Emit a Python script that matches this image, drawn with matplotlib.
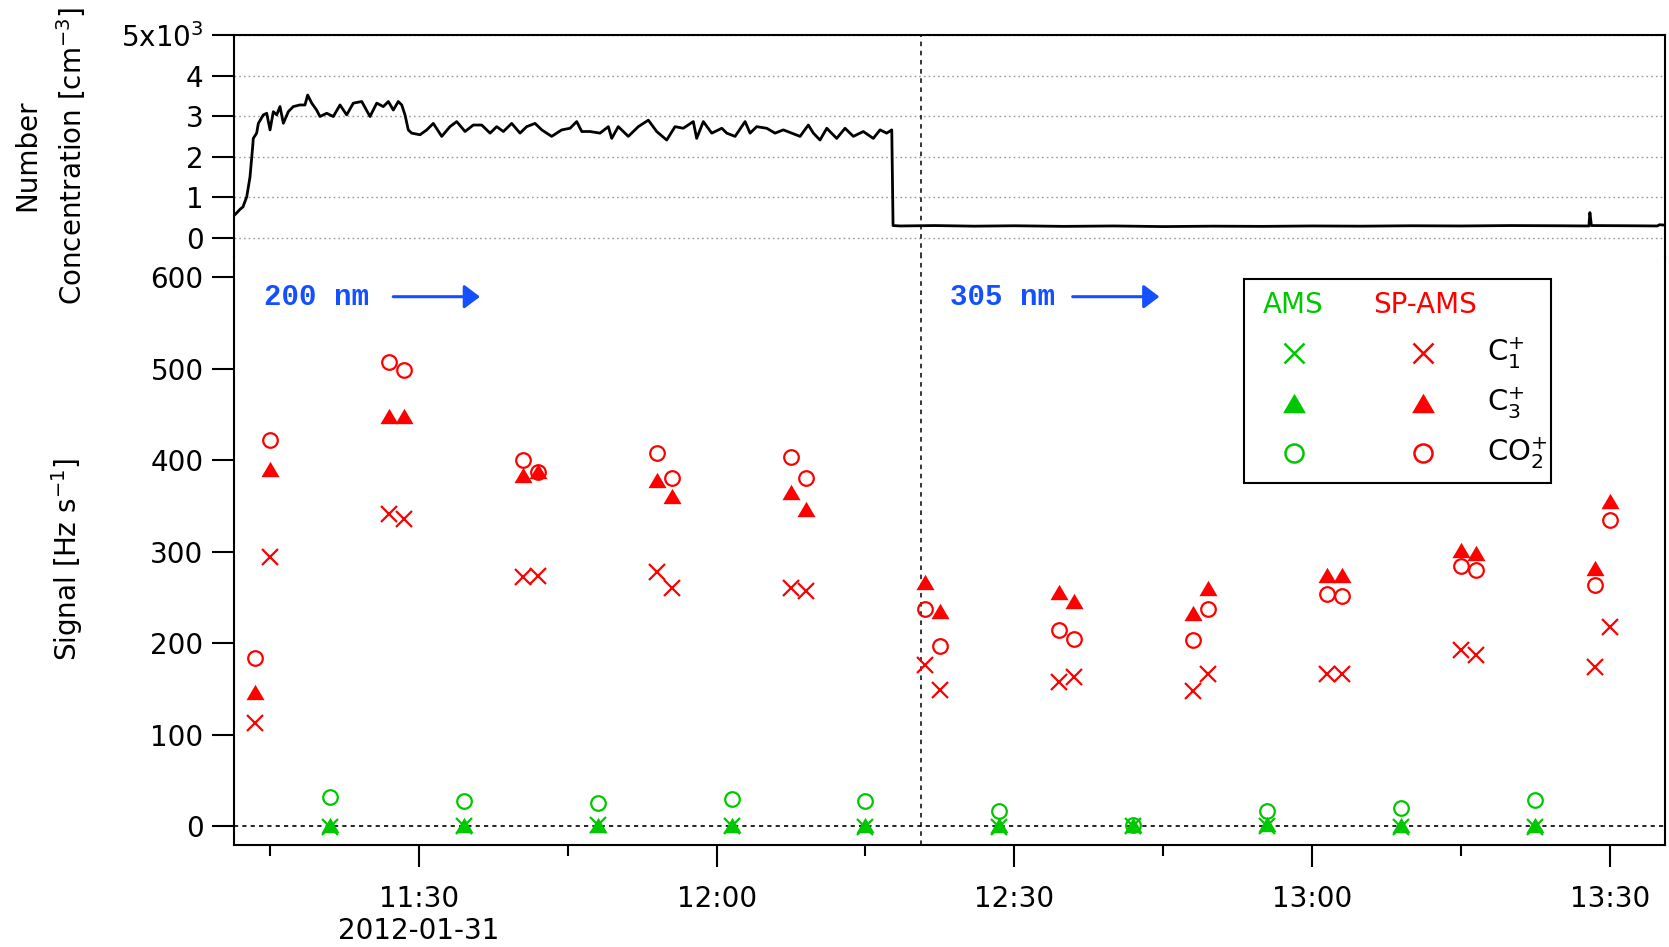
import datetime as dt
import matplotlib
matplotlib.use("Agg")
import matplotlib.pyplot as plt
from matplotlib.lines import Line2D
from matplotlib.patches import Rectangle

plt.rcParams['font.family'] = ['DejaVu Sans']
plt.rcParams['mathtext.fontset'] = 'dejavusans'

DAY = dt.datetime(2012, 1, 31)

# Particle number concentration (minutes after 11:00, cm^-3)
conc_minutes = [11.42, 11.67, 11.97, 12.27, 12.65, 12.98, 13.25, 13.31, 13.65, 13.82,
                14.32, 14.66, 15.0, 15.33, 15.67, 16.0, 16.34, 16.84, 17.34, 18.01,
                18.52, 18.79, 19.2, 19.69, 20.03, 20.71, 21.37, 22.05, 22.72, 23.39,
                24.24, 25.07, 25.75, 26.41, 26.92, 27.42, 27.92, 28.27, 28.6, 28.93,
                29.27, 30.11, 30.79, 31.45, 32.3, 33.13, 33.81, 34.65, 35.48, 36.33,
                37.17, 37.84, 38.51, 39.35, 40.19, 40.86, 41.7, 42.38, 43.38, 44.39,
                45.23, 45.9, 46.41, 47.24, 48.25, 49.09, 49.43, 50.09, 51.1, 52.11,
                53.12, 53.96, 54.97, 55.81, 56.64, 57.65, 57.99, 58.66, 59.51, 60.52,
                61.02, 61.86, 62.87, 63.37, 64.04, 65.05, 65.89, 66.72, 67.57, 68.41,
                69.24, 69.75, 70.42, 71.1, 72.1, 72.94, 73.78, 74.78, 75.79, 76.47,
                77.14, 77.65, 77.78, 78.5, 82.0, 86.0, 90.0, 95.0, 100.0, 105.0,
                110.0, 115.0, 120.0, 125.0, 130.0, 135.0, 140.0, 145.0, 147.9, 148.0,
                148.15, 152.0, 154.8, 155.0, 155.56]
conc_values = [560, 620, 700, 760, 1010, 1500, 2250, 2450, 2580, 2820,
               3030, 3070, 2660, 3110, 3030, 3235, 2824, 3110, 3235, 3275,
               3275, 3520, 3320, 3150, 2990, 3070, 2990, 3275, 3030, 3320,
               3360, 2990, 3320, 3235, 3360, 3150, 3360, 3275, 3030, 2660,
               2580, 2540, 2660, 2820, 2500, 2740, 2865, 2620, 2780, 2780,
               2580, 2740, 2620, 2820, 2580, 2740, 2820, 2660, 2500, 2660,
               2700, 2865, 2620, 2620, 2580, 2740, 2450, 2740, 2500, 2740,
               2900, 2620, 2410, 2740, 2700, 2865, 2450, 2865, 2580, 2700,
               2580, 2500, 2865, 2580, 2740, 2700, 2580, 2660, 2580, 2500,
               2780, 2580, 2410, 2700, 2450, 2700, 2500, 2620, 2450, 2660,
               2580, 2660, 300, 290, 300, 285, 295, 280, 290, 275,
               285, 280, 290, 285, 295, 290, 300, 295, 290, 620,
               300, 295, 290, 320, 310]

# SP-AMS signals [Hz s^-1]
sp_times = ["11:13:30", "11:15:00", "11:27:00", "11:28:30", "11:40:30", "11:42:00",
            "11:54:00", "11:55:30", "12:07:30", "12:09:00", "12:21:00", "12:22:30",
            "12:34:30", "12:36:00", "12:48:00", "12:49:30", "13:01:30", "13:03:00",
            "13:15:00", "13:16:30", "13:28:30", "13:30:00"]
sp_c1 = [113, 294, 341, 336, 273, 274, 278, 260, 260, 257, 176, 149,
         158, 163, 148, 166, 166, 166, 193, 187, 174, 218]
sp_c3 = [147, 390, 448, 448, 384, 388, 378, 361, 365, 347, 267, 235,
         256, 246, 233, 260, 275, 275, 302, 299, 282, 356]
sp_co2 = [184, 422, 507, 499, 400, 387, 408, 381, 404, 381, 237, 197,
          215, 205, 204, 238, 254, 252, 285, 280, 264, 335]

# AMS signals [Hz s^-1]
ams_times = ["11:21:00", "11:34:30", "11:48:00", "12:01:30", "12:15:00",
             "12:28:30", "12:42:00", "12:55:30", "13:09:00", "13:22:30"]
ams_c1 = [-1, 0, 1, 0, -1, -1, 0, 0, -1, -1]
ams_c3 = [2, 2, 2, 2, 1, 1, 1, 3, 1, 1]
ams_co2 = [32, 28, 26, 30, 28, 17, 2, 17, 20, 29]

size_switch = "12:20:36"
major_ticks = ["11:30", "12:00", "12:30", "13:00", "13:30"]
major_labels = ["11:30\n2012-01-31", "12:00", "12:30", "13:00", "13:30"]
minor_ticks = ["11:15", "11:45", "12:15", "12:45", "13:15"]
conc_ticks = [0, 1000, 2000, 3000, 4000, 5000]
conc_tick_labels = ["0", "1", "2", "3", "4", "5x10$^{3}$"]
signal_ticks = [0, 100, 200, 300, 400, 500, 600]


def at(clock):
    parts = [int(p) for p in clock.split(":")]
    while len(parts) < 3:
        parts.append(0)
    return DAY.replace(hour=parts[0], minute=parts[1], second=parts[2])


GREEN = "#00c800"
RED = "#ff0000"
BLUE = "#1450ff"
TRI = [(-1, -0.85), (1, -0.85), (0, 0.85), (-1, -0.85)]

fig = plt.figure(figsize=(16.69, 9.47), dpi=100)
left, width = 0.1403, 0.8572
ax_top = fig.add_axes([left, 0.7286, width, 0.2344])
ax = fig.add_axes([left, 0.1077, width, 0.6209], sharex=ax_top)

x_lo = DAY.replace(hour=11, minute=11) + dt.timedelta(seconds=23)
x_hi = DAY.replace(hour=13, minute=35) + dt.timedelta(seconds=33)

# ---- number concentration panel ----
conc_t = [DAY.replace(hour=11) + dt.timedelta(minutes=m) for m in conc_minutes]
ax_top.plot(conc_t, conc_values, color="black", lw=2.0, zorder=3)
ax_top.set_ylim(-476, 5000)
ax_top.set_yticks(conc_ticks)
ax_top.set_yticklabels(conc_tick_labels)
for v in conc_ticks:
    ax_top.axhline(v, color="#9a9a9a", lw=1.0, ls=(0, (1.2, 2.2)), zorder=1)
ax_top.spines["bottom"].set_visible(False)
for s in ("top", "left", "right"):
    ax_top.spines[s].set_linewidth(1.5)
ax_top.tick_params(axis="x", which="both", bottom=False, labelbottom=False)
ax_top.tick_params(axis="y", direction="out", length=16, width=1.5, labelsize=20, pad=6)
ax_top.axvline(at(size_switch), color="black", lw=1.1, ls=(0, (3, 3)), zorder=2)

# ---- signal panel ----
ams_t = [at(t) for t in ams_times]
sp_t = [at(t) for t in sp_times]

ax.axhline(0, color="black", lw=1.2, ls=(0, (2.5, 2.5)), zorder=1)
ax.axvline(at(size_switch), color="black", lw=1.1, ls=(0, (3, 3)), zorder=1)

ax.plot(sp_t, sp_c1, ls="none", marker="x", ms=11, mew=1.6, color=RED, zorder=3)
ax.plot(sp_t, sp_c3, ls="none", marker=TRI, ms=13, mew=0, color=RED, zorder=3)
ax.plot(sp_t, sp_co2, ls="none", marker="o", ms=10.5, mew=1.6, mfc="none", mec=RED, zorder=3)
ax.plot(ams_t, ams_c1, ls="none", marker="x", ms=11, mew=1.6, color=GREEN, zorder=3)
ax.plot(ams_t, ams_c3, ls="none", marker=TRI, ms=13, mew=0, color=GREEN, zorder=3)
ax.plot(ams_t, ams_co2, ls="none", marker="o", ms=10.5, mew=1.6, mfc="none", mec=GREEN, zorder=3)

ax.set_ylim(-20.4, 622.2)
ax.set_yticks(signal_ticks)
ax.set_xlim(x_lo, x_hi)
ax.set_xticks([at(t) for t in major_ticks])
ax.set_xticklabels(major_labels)
ax.set_xticks([at(t) for t in minor_ticks], minor=True)
ax.spines["top"].set_visible(False)
for s in ("bottom", "left", "right"):
    ax.spines[s].set_linewidth(1.5)
ax.tick_params(axis="y", direction="out", length=16, width=1.5, labelsize=20, pad=6)
ax.tick_params(axis="x", which="major", direction="out", length=16, width=1.5,
               labelsize=20, pad=13)
ax.tick_params(axis="x", which="minor", direction="out", length=8, width=1.5)
for lab in ax.get_xticklabels():
    lab.set_linespacing(1.15)

# axis titles
fig.text(0.0302, 0.836, "Number\nConcentration [cm$^{-3}$]", rotation=90,
         ha="center", va="center", fontsize=20, linespacing=1.45, multialignment="center")
fig.text(0.040, 0.409, "Signal [Hz s$^{-1}$]", rotation=90,
         ha="center", va="center", fontsize=20)

# particle size annotations
mono = ["Liberation Mono", "DejaVu Sans Mono"]
for x_text, x0, x1, txt in ((0.021, 0.1112, 0.1718, "200 nm"),
                            (0.5002, 0.5861, 0.6467, "305 nm")):
    ax.text(x_text, 0.9325, txt, transform=ax.transAxes, ha="left", va="center",
            fontsize=21, fontweight="bold", color=BLUE, family=mono)
    ax.annotate("", xy=(x1, 0.9325), xytext=(x0, 0.9325), xycoords="axes fraction",
                arrowprops=dict(arrowstyle="-|>,head_length=0.95,head_width=0.72",
                                color=BLUE, lw=2.2, shrinkA=0, shrinkB=0))

# key
bx0, bx1, by0, by1 = 0.7059, 0.9202, 0.6151, 0.9626
ax.add_patch(Rectangle((bx0, by0), bx1 - bx0, by1 - by0, transform=ax.transAxes,
                       fill=True, facecolor="white", edgecolor="black", lw=1.5, zorder=5))
col_a = (1294.3 - 234.2) / 1430.6
col_b = (1423.3 - 234.2) / 1430.6
col_c = (1486.7 - 234.2) / 1430.6


def yfrac(py):
    return (845 - py) / 588.0


ax.text((1293.3 - 234.2) / 1430.6, yfrac(305), "AMS", transform=ax.transAxes,
        ha="center", va="center", fontsize=20, color=GREEN, zorder=6)
ax.text((1425 - 234.2) / 1430.6, yfrac(305), "SP-AMS", transform=ax.transAxes,
        ha="center", va="center", fontsize=20, color=RED, zorder=6)
rows = [(352.7, "x", "C$_{1}^{+}$"), (402.7, TRI, "C$_{3}^{+}$"), (453.3, "o", "CO$_{2}^{+}$")]
for py, mk, lab in rows:
    for cx, col in ((col_a, GREEN), (col_b, RED)):
        if mk == "x":
            kw = dict(marker="x", ms=15, mew=1.8, color=col)
        elif mk == "o":
            kw = dict(marker="o", ms=13, mew=1.8, mfc="none", mec=col)
        else:
            kw = dict(marker=TRI, ms=16.5, mew=0, color=col)
        ax.add_line(Line2D([cx], [yfrac(py)], transform=ax.transAxes, ls="none",
                           zorder=6, **kw))
    ax.text(col_c, yfrac(py), lab, transform=ax.transAxes, ha="left", va="center",
            fontsize=21, zorder=6)

fig.savefig("out.png", dpi=100)
